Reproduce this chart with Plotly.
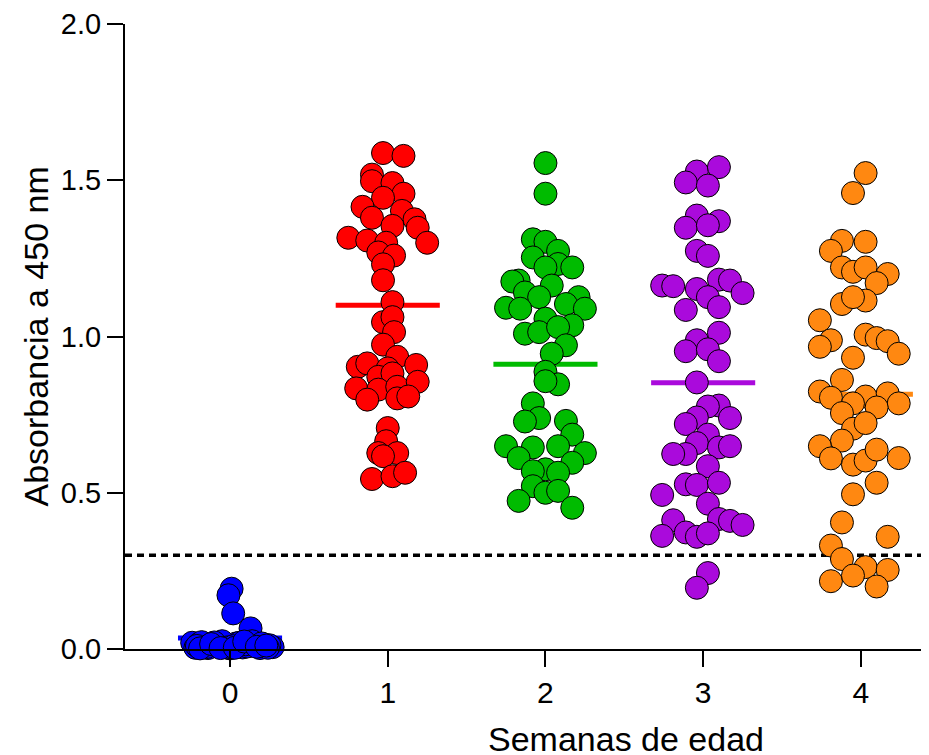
import plotly.graph_objects as go

# ---------------- data ----------------
week_labels = ["0", "1", "2", "3", "4"]
y_tick_vals = [0.0, 0.5, 1.0, 1.5, 2.0]
y_tick_text = ["0.0", "0.5", "1.0", "1.5", "2.0"]
cutoff = 0.30
group_means = [0.035, 1.10, 0.911, 0.852, 0.815]

# week 0
w0_offset = [0.01, -0.01, 0.02, 0.13,
             -0.24, -0.20, -0.17, -0.11, -0.03, 0.04, 0.08, 0.16, 0.22, 0.27,
             -0.22, -0.18, -0.14, -0.08, -0.05, 0.00, 0.06, 0.11, 0.19, 0.25,
             -0.21, -0.15, -0.10, -0.02, 0.02, 0.10, 0.14, 0.20, 0.24,
             -0.19, -0.12, -0.06, 0.03, 0.09, 0.17, 0.23]
w0_value = [0.193, 0.172, 0.114, 0.066,
            0.020, 0.015, 0.010, 0.008, 0.012, 0.018, 0.005, 0.010, 0.014, 0.006,
            0.004, 0.022, 0.003, 0.015, 0.025, 0.002, 0.020, 0.008, 0.003, 0.012,
            0.010, 0.006, 0.021, 0.005, 0.009, 0.015, 0.025, 0.018, 0.004,
            0.002, 0.016, 0.003, 0.004, 0.024, 0.007, 0.011]

# week 1
w1_offset = [-0.03, 0.10, -0.10, -0.10, 0.03, 0.10, -0.03, -0.16, 0.09, -0.10,
             0.17, 0.03, 0.19, -0.25, -0.13, -0.01, 0.25, -0.06, 0.04, -0.03,
             -0.03, 0.03, -0.03, 0.03, 0.04, -0.03, 0.06, -0.19, -0.13, 0.18,
             0.00, -0.06, 0.03, -0.20, -0.06, 0.06, 0.19, -0.13, 0.06, 0.13,
             0.00, -0.01, -0.06, 0.06, -0.03, -0.10, 0.03, 0.11]
w1_value = [1.587, 1.578, 1.518, 1.497, 1.491, 1.457, 1.444, 1.415, 1.402, 1.380,
            1.375, 1.354, 1.348, 1.316, 1.307, 1.300, 1.300, 1.269, 1.259, 1.231,
            1.180, 1.110, 1.046, 1.062, 1.014, 0.974, 0.935, 0.903, 0.914, 0.909,
            0.898, 0.871, 0.882, 0.834, 0.830, 0.839, 0.855, 0.798, 0.802, 0.808,
            0.707, 0.665, 0.627, 0.627, 0.617, 0.544, 0.553, 0.564]

# week 2
w2_offset = [0.00, 0.00, -0.08, 0.00, 0.08, -0.08, 0.08, 0.17, 0.00, -0.17,
             -0.21, 0.04, -0.13, 0.21, -0.04, 0.13, -0.25, 0.25, -0.16, 0.00,
             0.17, -0.13, -0.04, 0.08, 0.13, 0.04, 0.00, 0.08, 0.00, -0.08,
             -0.04, -0.13, 0.13, 0.17, -0.25, -0.08, 0.08, -0.17, 0.25, 0.17,
             0.00, -0.08, 0.08, -0.08, 0.00, 0.08, -0.17, 0.17]
w2_value = [1.555, 1.457, 1.311, 1.303, 1.274, 1.253, 1.232, 1.221, 1.221, 1.179,
            1.176, 1.163, 1.141, 1.126, 1.126, 1.104, 1.092, 1.089, 1.089, 1.057,
            1.036, 1.009, 1.014, 1.030, 0.972, 0.945, 0.887, 0.847, 0.857, 0.786,
            0.739, 0.728, 0.730, 0.686, 0.649, 0.645, 0.649, 0.611, 0.627, 0.596,
            0.575, 0.569, 0.564, 0.521, 0.500, 0.506, 0.474, 0.452]

# week 3
w3_offset = [-0.04, 0.10, -0.11, 0.03, -0.04, 0.10, -0.11, 0.03, -0.04, 0.03,
             -0.26, -0.19, -0.04, 0.10, 0.17, 0.25, 0.03, 0.10, -0.11, -0.04,
             0.10, -0.11, 0.03, 0.10, -0.04, 0.10, 0.03, -0.04, 0.17, -0.11,
             0.03, -0.04, 0.10, 0.17, -0.11, -0.19, 0.03, -0.11, -0.04, 0.10,
             -0.26, 0.03, -0.19, 0.10, 0.17, 0.25, -0.26, -0.11, -0.04, 0.03,
             0.03, -0.04]
w3_value = [1.528, 1.542, 1.493, 1.483, 1.387, 1.369, 1.348, 1.356, 1.274, 1.258,
            1.163, 1.161, 1.152, 1.182, 1.179, 1.139, 1.126, 1.094, 1.085, 0.988,
            1.012, 0.953, 0.959, 0.921, 0.853, 0.779, 0.776, 0.741, 0.739, 0.720,
            0.686, 0.659, 0.645, 0.649, 0.624, 0.624, 0.585, 0.527, 0.525, 0.532,
            0.493, 0.465, 0.412, 0.416, 0.410, 0.397, 0.362, 0.373, 0.359, 0.370,
            0.243, 0.196]

# week 4
w4_offset = [0.03, -0.05, -0.12, 0.03, -0.19, -0.12, -0.05, 0.03, 0.17, 0.10,
             -0.12, 0.03, -0.05, -0.26, -0.19, -0.26, 0.03, 0.10, 0.17, 0.24,
             -0.05, -0.12, -0.26, -0.19, 0.03, 0.17, 0.24, 0.10, -0.05, -0.12,
             -0.05, 0.03, -0.12, -0.26, -0.19, -0.05, 0.03, 0.10, 0.24, 0.10,
             -0.05, -0.12, 0.17, -0.19, -0.12, 0.03, 0.17, -0.19, -0.05, 0.10]
w4_value = [1.523, 1.459, 1.306, 1.303, 1.274, 1.221, 1.207, 1.221, 1.200, 1.171,
            1.104, 1.115, 1.126, 1.052, 0.988, 0.967, 1.006, 0.995, 0.985, 0.945,
            0.932, 0.861, 0.824, 0.804, 0.808, 0.818, 0.786, 0.773, 0.786, 0.755,
            0.705, 0.723, 0.667, 0.649, 0.610, 0.590, 0.603, 0.638, 0.611, 0.532,
            0.495, 0.405, 0.359, 0.331, 0.288, 0.262, 0.253, 0.217, 0.235, 0.200]

group_offsets = [w0_offset, w1_offset, w2_offset, w3_offset, w4_offset]
group_values = [w0_value, w1_value, w2_value, w3_value, w4_value]
group_colors = ["#0000FF", "#FF0000", "#00BB00", "#AA0ADC", "#FF8811"]

# ---------------- figure ----------------
FONT = "Liberation Sans, Arial, sans-serif"
fig = go.Figure()

half = 0.33
# mean lines (below markers)
for i, m in enumerate(group_means):
    fig.add_trace(go.Scatter(
        x=[i - half, i + half], y=[m, m], mode="lines",
        line=dict(color=group_colors[i], width=5),
        hoverinfo="skip", showlegend=False, cliponaxis=False))

# points
for i in range(len(week_labels)):
    fig.add_trace(go.Scatter(
        x=[i + o for o in group_offsets[i]], y=group_values[i], mode="markers",
        marker=dict(size=23, color=group_colors[i],
                    line=dict(color="black", width=1)),
        showlegend=False, cliponaxis=False))

fig.add_shape(type="line", xref="paper", x0=0, x1=1, yref="y", y0=cutoff, y1=cutoff,
              line=dict(color="black", width=3.5, dash="7px,5px"), layer="below")

# page body has an 8px default margin: plot area lands at x 125..929, y 20..649
fig.update_layout(
    width=921, height=747,
    margin=dict(l=117, r=0, t=12, b=106),
    plot_bgcolor="white", paper_bgcolor="white",
    font=dict(family=FONT, color="black"),
    xaxis=dict(range=[-0.666, 4.432], tickvals=list(range(len(week_labels))),
               ticktext=week_labels, tickfont=dict(size=30, family=FONT),
               showline=True, linecolor="black", linewidth=2,
               ticks="outside", ticklen=16, tickwidth=2, tickcolor="black",
               showgrid=False, zeroline=False, ticklabeloverflow="allow"),
    yaxis=dict(range=[0, 2.0], tickvals=y_tick_vals, ticktext=y_tick_text,
               tickfont=dict(size=29, family=FONT),
               showline=True, linecolor="black", linewidth=2,
               ticks="outside", ticklen=16, tickwidth=2, tickcolor="black",
               showgrid=False, zeroline=False, ticklabeloverflow="allow"),
    annotations=[
        dict(text="Semanas de edad", xref="paper", yref="paper",
             x=(626 - 125) / 804, y=(649 - 740) / 629,
             xanchor="center", yanchor="middle", showarrow=False,
             font=dict(size=34, family=FONT, color="black")),
        dict(text="Absorbancia a 450 nm", xref="paper", yref="paper",
             x=(35 - 125) / 804, y=0.5, textangle=-90,
             xanchor="center", yanchor="middle", showarrow=False,
             font=dict(size=34, family=FONT, color="black")),
    ],
)

fig.write_html("out.html")
